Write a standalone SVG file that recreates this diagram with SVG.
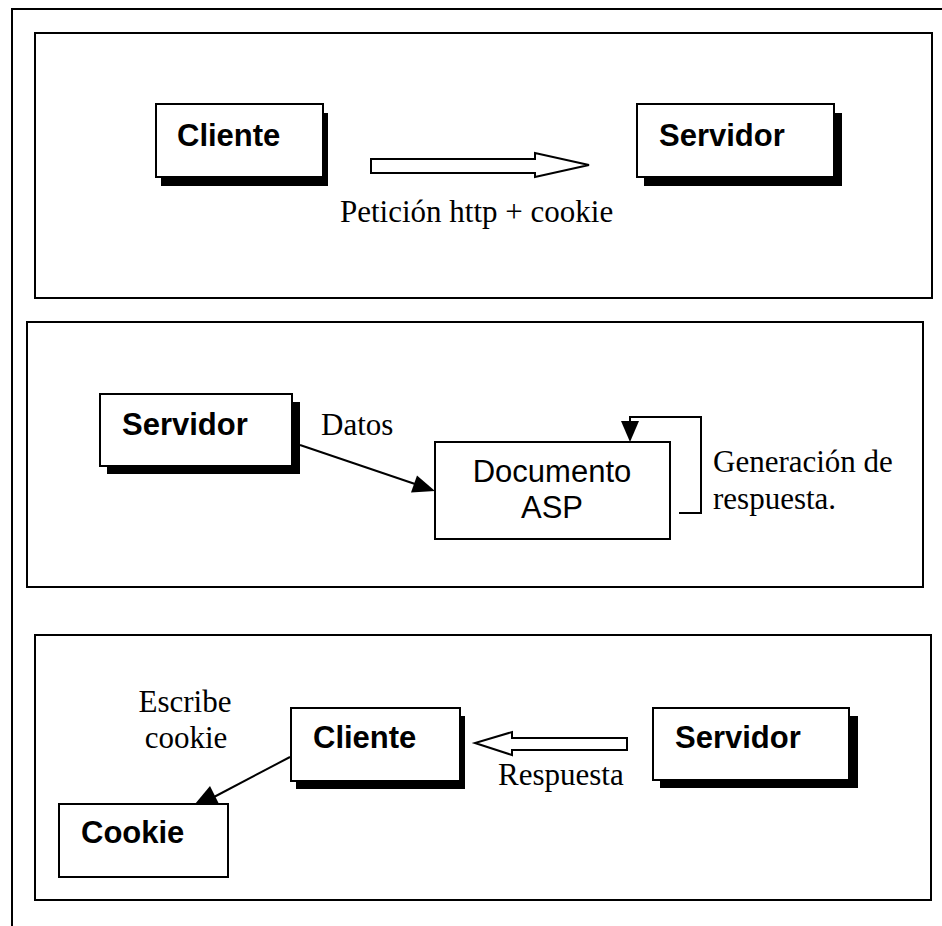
<svg xmlns="http://www.w3.org/2000/svg" width="942" height="926" viewBox="0 0 942 926">
  <style>
    .frame { fill: none; stroke: #000; stroke-width: 2; }
    .panel { fill: #fff; stroke: #000; stroke-width: 2; }
    .box { fill: #fff; stroke: #000; stroke-width: 2; }
    .shadow { fill: #000; }
    .bold { font-family: "Liberation Sans", Arial, sans-serif; font-weight: bold; font-size: 31px; fill: #000; }
    .sans { font-family: "Liberation Sans", Arial, sans-serif; font-size: 31px; fill: #000; }
    .serif { font-family: "Liberation Serif", "Times New Roman", serif; font-size: 31px; fill: #000; }
    .line { fill: none; stroke: #000; stroke-width: 2; }
    .hollow { fill: #fff; stroke: #000; stroke-width: 2; stroke-linejoin: miter; }
    .head { fill: #000; }
  </style>

  <rect width="942" height="926" fill="#fff"/>

  <!-- outer frame, continuing past the right and bottom edges -->
  <path class="frame" d="M12,926 V9 H942"/>

  <!-- panels -->
  <rect class="panel" x="35" y="33" width="897" height="265"/>
  <rect class="panel" x="27" y="322" width="896" height="265"/>
  <rect class="panel" x="35" y="635" width="896" height="265"/>

  <!-- panel 1: request -->
  <g id="cliente1">
    <rect class="shadow" x="161" y="113" width="167" height="73"/>
    <rect class="box" x="156" y="104" width="167" height="73"/>
    <text class="bold" x="177" y="146">Cliente</text>
  </g>
  <g id="servidor1">
    <rect class="shadow" x="644" y="113" width="198" height="73"/>
    <rect class="box" x="637" y="104" width="197" height="73"/>
    <text class="bold" x="659" y="146">Servidor</text>
  </g>

  <!-- panel 2: processing -->
  <g id="servidor2">
    <rect class="shadow" x="107" y="402" width="193" height="72"/>
    <rect class="box" x="100" y="394" width="192" height="72"/>
    <text class="bold" x="122" y="435">Servidor</text>
  </g>
  <g id="documento">
    <rect class="box" x="435" y="442" width="235" height="97"/>
    <text class="sans" x="552" y="482" text-anchor="middle">Documento</text>
    <text class="sans" x="552" y="518" text-anchor="middle">ASP</text>
  </g>

  <!-- panel 3: response -->
  <g id="cliente3">
    <rect class="shadow" x="296" y="716" width="169" height="73"/>
    <rect class="box" x="291" y="708" width="169" height="73"/>
    <text class="bold" x="313" y="748">Cliente</text>
  </g>
  <g id="servidor3">
    <rect class="shadow" x="660" y="716" width="198" height="72"/>
    <rect class="box" x="653" y="708" width="196" height="72"/>
    <text class="bold" x="675" y="748">Servidor</text>
  </g>

  <!-- connectors -->
  <g id="connectors">
    <!-- request: hollow block arrow -->
    <polygon class="hollow" points="371,159 535,159 535,153 589,165 535,177 535,173 371,173"/>
    <text class="serif" x="340" y="222">Petición http + cookie</text>

    <!-- data into the ASP document -->
    <line class="line" x1="300" y1="445" x2="418" y2="485"/>
    <polygon class="head" points="435,491 411,492.5 417,475.5"/>
    <text class="serif" x="321" y="435">Datos</text>

    <!-- response generation loop -->
    <polyline class="line" points="679,513 701,513 701,417 630,417 630,425"/>
    <polygon class="head" points="621,421 639,421 630,442"/>
    <text class="serif" x="713" y="472">Generación de</text>
    <text class="serif" x="713" y="509">respuesta.</text>

    <!-- response: hollow block arrow -->
    <polygon class="hollow" points="627,738 627,750 512,750 512,755 475,743 512,732 512,738"/>
    <text class="serif" x="498" y="785">Respuesta</text>

    <!-- client writes the cookie -->
    <line class="line" x1="290" y1="757" x2="214" y2="797"/>
    <polygon class="head" points="195,804 210,786 219,804"/>
    <text class="serif" x="185" y="712" text-anchor="middle">Escribe</text>
    <text class="serif" x="186" y="748" text-anchor="middle">cookie</text>
  </g>

  <g id="cookie">
    <rect class="box" x="59" y="804" width="169" height="73"/>
    <text class="bold" x="81" y="843">Cookie</text>
  </g>
</svg>
